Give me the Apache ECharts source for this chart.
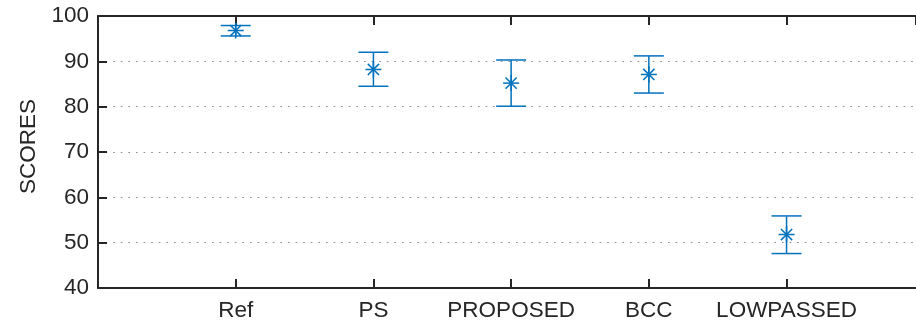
<!DOCTYPE html>
<html>
<head>
<meta charset="utf-8">
<script src="https://cdn.jsdelivr.net/npm/echarts@6/dist/echarts.min.js"></script>
<style>
  html, body { margin: 0; padding: 0; background: #fff; }
  #chart { width: 916px; height: 324px; }
</style>
</head>
<body>
<div id="chart"></div>
<script>
// categories, placed at x = 1..5
var categories = ['Ref', 'PS', 'PROPOSED', 'BCC', 'LOWPASSED'];
// mean scores and error bar ends
var means = [96.8, 88.2, 85.2, 87.1, 51.8];
var lower = [95.6, 84.5, 80.1, 83.0, 47.6];
var upper = [97.9, 92.0, 90.3, 91.2, 55.9];
var yTicks = [40, 50, 60, 70, 80, 90, 100];

var blue = '#0072BD';
var ink = '#262626';
var font = 'Liberation Sans, Arial, sans-serif';

var points = categories.map(function (c, i) {
    return [i + 1, means[i], lower[i], upper[i]];
});

function renderBar(params, api) {
    var x = api.value(0);
    var pMid = api.coord([x, api.value(1)]);
    var pLo = api.coord([x, api.value(2)]);
    var pHi = api.coord([x, api.value(3)]);
    var cap = 15;   // half width of caps
    var m = 8;      // asterisk half size
    var d = 5.6;
    var st = { stroke: blue, lineWidth: 1.5 };
    function seg(x1, y1, x2, y2) {
        return { type: 'line', shape: { x1: x1, y1: y1, x2: x2, y2: y2 }, style: st };
    }
    var cx = pMid[0], cy = pMid[1];
    return {
        type: 'group',
        children: [
            seg(pLo[0], pLo[1], pHi[0], pHi[1]),
            seg(pLo[0] - cap, pLo[1], pLo[0] + cap, pLo[1]),
            seg(pHi[0] - cap, pHi[1], pHi[0] + cap, pHi[1]),
            // asterisk marker
            seg(cx - m, cy, cx + m, cy),
            seg(cx, cy - m, cx, cy + m),
            seg(cx - d, cy - d, cx + d, cy + d),
            seg(cx - d, cy + d, cx + d, cy - d)
        ]
    };
}

// the right border of the box falls just outside the picture
var xMax = 5.94;

var chart = echarts.init(document.getElementById('chart'));
var option = {
    animation: false,
    grid: { left: 98, right: 0, top: 16, bottom: 36, containLabel: false },
    xAxis: [{
        type: 'value',
        min: 0,
        max: xMax,
        interval: 1,
        position: 'bottom',
        axisLine: { show: true, lineStyle: { color: ink, width: 2 } },
        axisTick: { show: true, inside: true, length: 9, lineStyle: { color: ink, width: 2 } },
        axisLabel: {
            color: ink,
            fontSize: 22.5,
            fontFamily: font,
            margin: 11,
            showMaxLabel: false,
            formatter: function (v) { return categories[v - 1] || ''; }
        },
        splitLine: { show: false }
    }, {
        type: 'value',
        min: 0,
        max: xMax,
        interval: 1,
        position: 'top',
        axisLine: { show: true, lineStyle: { color: ink, width: 2 } },
        axisTick: { show: true, inside: true, length: 9, lineStyle: { color: ink, width: 2 } },
        axisLabel: { show: false },
        splitLine: { show: false }
    }],
    yAxis: {
        type: 'value',
        min: yTicks[0],
        max: yTicks[yTicks.length - 1],
        interval: 10,
        name: 'SCORES',
        nameLocation: 'middle',
        nameGap: 52,
        nameTextStyle: { color: ink, fontSize: 22.5, fontFamily: font, padding: [0, 0, 0, 11] },
        axisLine: { show: true, lineStyle: { color: ink, width: 2 } },
        axisTick: { show: true, inside: true, length: 9, lineStyle: { color: ink, width: 2 } },
        axisLabel: {
            color: ink,
            fontSize: 22.5,
            fontFamily: font,
            margin: 9
        },
        splitLine: {
            show: true,
            lineStyle: { color: '#8c8c8c', width: 1.2, type: [1.6, 6] }
        }
    },
    series: [{
        type: 'custom',
        renderItem: renderBar,
        data: points,
        encode: { x: 0, y: 1 },
        clip: false
    }]
};
chart.setOption(option);
</script>
</body>
</html>
